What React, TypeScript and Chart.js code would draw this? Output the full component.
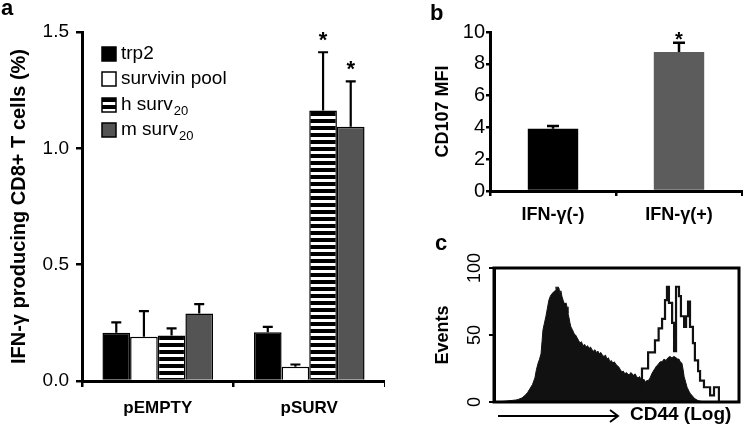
import React, { useEffect, useRef } from 'react';
import { Chart, registerables } from 'chart.js';

Chart.register(...registerables);

const FONT = "'Liberation Sans', Arial, Helvetica, sans-serif";
Chart.defaults.font.family = FONT;
Chart.defaults.color = '#000';

// ---------- Panel a ----------
const groupLabels = ['pEMPTY', 'pSURV'];
const seriesNames = ['trp2', 'survivin pool', 'h surv', 'm surv'];
const seriesSubs = ['', '', '20', '20'];
const trp2Vals = [0.207, 0.21];
const poolVals = [0.19, 0.061];
const hSurvVals = [0.196, 1.163];
const mSurvVals = [0.29, 1.093];
const trp2Err = [0.045, 0.023];
const poolErr = [0.11, 0.01];
const hSurvErr = [0.03, 0.25];
const mSurvErr = [0.04, 0.195];
const hSurvSig = [false, true];
const mSurvSig = [false, true];
const yTicksA = [0, 0.5, 1.0, 1.5];

// ---------- Panel b ----------
const cd107Labels = ['IFN-γ(-)', 'IFN-γ(+)'];
const cd107Vals = [3.92, 8.74];
const cd107Err = [0.17, 0.59];
const cd107Sig = [false, true];
const yTicksB = [0, 2, 4, 6, 8, 10];

// ---------- Panel c ----------
const histChannels = [
  0, 4, 6.5, 9, 10, 11.4, 12.7, 13.7, 14.7, 15.7, 16.7, 17.3, 18, 18.6, 19.2, 19.6, 20, 20.6, 21.2, 21.8,
  22.4, 23, 23.7, 24.3, 24.9, 25.3, 25.7, 26.1, 26.5, 26.9, 27.3, 27.7, 28.2, 28.6, 29, 29.4, 29.8, 30.2,
  30.6, 31, 31.4, 32, 32.7, 33.3, 33.9, 34.5, 35.1, 35.7, 36.3, 37, 37.6, 38.2, 38.8, 39.4, 40, 40.6, 41.2,
  41.8, 42.4, 43, 43.6, 44.2, 44.9, 45.5, 46.1, 46.7, 47.3, 47.9, 48.5, 49.1, 49.8, 50.4, 51, 51.6, 52.2,
  52.8, 53.4, 54, 54.6, 55.2, 55.8, 56.4, 57, 57.6, 58.2, 58.8, 59.4, 60, 60.6, 61.2, 61.8, 62.4, 63, 63.7,
  64.4, 65, 65.7, 66.4, 67, 67.8, 68.6, 69.4, 70.2, 71, 71.8, 72.6, 73.5, 74.3, 75, 75.5, 76, 76.7, 77.2,
  77.6, 78.2, 78.8, 79.6, 80.2, 80.8, 81.6, 82.4, 83.3, 84.5, 86, 100,
];
const histFilled = [
  0, 0.5, 1, 1.5, 2, 3, 5, 7, 10, 13, 18, 24, 29, 32, 36, 45, 54, 59, 64, 70,
  76, 79, 81, 82, 83, 86, 84, 86, 85, 81, 83, 79, 76, 74, 73, 74, 71, 66,
  63, 59, 56, 54, 51, 50, 48, 46, 44, 45, 42, 43, 41, 42, 40, 41, 39, 38, 39,
  37, 38, 36, 37, 35, 34, 35, 32, 33, 30, 31, 29, 30, 28, 27, 26, 24, 22.5,
  23, 21, 22, 21, 20, 22, 21, 20, 21, 19, 18, 19, 17, 16, 17, 15, 16, 16, 18,
  21, 23, 25, 27, 28, 30, 30, 32, 31, 33, 34, 33, 34, 33, 32, 32, 30, 29, 24,
  19, 15, 11, 8, 6, 5, 3, 2, 1, 0.5, 0, 0,
];
const outlineChannels = [
  57, 58.5, 60.4, 61.6, 62.9, 64.5, 65.7, 67.2, 68.6, 69.8, 70.6, 71.4, 72.7, 73.5, 74.3, 75.5,
  76.3, 77.6, 78.4, 79.2, 80, 81.2, 82, 83.3, 84.1, 85.7, 86.9, 88.2, 89.8, 91, 91.8,
];
const outlineCounts = [
  2, 6, 25, 25, 37, 37, 46, 55, 62, 76, 86, 74, 59, 38, 86, 79,
  64, 56, 64, 75, 56, 44, 31, 23, 16, 11, 11, 5, 11, 11, 0,
];

function makeStripes(ctx: CanvasRenderingContext2D) {
  const c = document.createElement('canvas');
  c.width = 8;
  c.height = 7;
  const g = c.getContext('2d')!;
  g.fillStyle = '#fff';
  g.fillRect(0, 0, 8, 7);
  g.fillStyle = '#000';
  g.fillRect(0, 0, 8, 4);
  return ctx.createPattern(c, 'repeat');
}

const errorBarPlugin = {
  id: 'errbars',
  afterDatasetsDraw(chart: any, _args: any, opts: any) {
    const ctx = chart.ctx;
    const y = chart.scales.y;
    chart.data.datasets.forEach((ds: any, i: number) => {
      if (!ds.errors) return;
      const meta = chart.getDatasetMeta(i);
      meta.data.forEach((el: any, j: number) => {
        const v = ds.data[j];
        const e = ds.errors[j];
        const yTop = y.getPixelForValue(v + e);
        ctx.save();
        ctx.strokeStyle = '#000';
        ctx.lineWidth = opts.lineWidth;
        ctx.beginPath();
        ctx.moveTo(el.x, el.y);
        ctx.lineTo(el.x, yTop);
        ctx.moveTo(el.x - opts.cap / 2, yTop);
        ctx.lineTo(el.x + opts.cap / 2, yTop);
        ctx.stroke();
        if (ds.sig && ds.sig[j]) {
          ctx.fillStyle = '#000';
          ctx.font = `bold ${opts.starSize}px ${FONT}`;
          ctx.textAlign = 'center';
          ctx.textBaseline = 'alphabetic';
          ctx.fillText('*', el.x, yTop + opts.starOffset);
        }
        ctx.restore();
      });
    });
  },
};

const panelLetterPlugin = {
  id: 'panelLetter',
  afterDraw(chart: any, _args: any, opts: any) {
    const ctx = chart.ctx;
    ctx.save();
    ctx.fillStyle = '#000';
    ctx.font = `bold 22px ${FONT}`;
    ctx.textAlign = 'left';
    ctx.textBaseline = 'alphabetic';
    ctx.fillText(opts.text, opts.x, opts.y);
    ctx.restore();
  },
};

const legendAPlugin = {
  id: 'legendA',
  afterDraw(chart: any) {
    const ctx = chart.ctx;
    const rows = [54, 79, 105, 130];
    ctx.save();
    chart.data.datasets.forEach((ds: any, i: number) => {
      const cy = rows[i];
      ctx.fillStyle = ds.backgroundColor;
      ctx.fillRect(102, cy - 7, 14, 14);
      ctx.strokeStyle = '#000';
      ctx.lineWidth = 1.5;
      ctx.strokeRect(102, cy - 7, 14, 14);
      ctx.fillStyle = '#000';
      ctx.font = `19px ${FONT}`;
      ctx.textAlign = 'left';
      ctx.textBaseline = 'middle';
      ctx.fillText(seriesNames[i], 121, cy);
      if (seriesSubs[i]) {
        const w = ctx.measureText(seriesNames[i]).width;
        ctx.font = `13px ${FONT}`;
        ctx.fillText(seriesSubs[i], 121 + w + 1, cy + 6);
      }
    });
    ctx.restore();
  },
};

const boxCPlugin = {
  id: 'boxC',
  afterDatasetsDraw(chart: any) {
    const ctx = chart.ctx;
    const a = chart.chartArea;
    const ys = chart.scales.y;
    ctx.save();
    ctx.strokeStyle = '#000';
    ctx.lineWidth = 3;
    ctx.strokeRect(a.left, a.top, a.right - a.left, a.bottom - a.top);
    // rotated tick labels
    ctx.fillStyle = '#000';
    ctx.font = `18px ${FONT}`;
    ctx.textAlign = 'center';
    ctx.textBaseline = 'middle';
    ys.ticks.forEach((t: any) => {
      const py = ys.getPixelForValue(t.value);
      ctx.save();
      ctx.translate(55, py);
      ctx.rotate(-Math.PI / 2);
      ctx.fillText(String(t.value), 0, 0);
      ctx.restore();
    });
    // arrow + axis label
    ctx.lineWidth = 2;
    ctx.beginPath();
    ctx.moveTo(78, 181);
    ctx.lineTo(198, 181);
    ctx.moveTo(190, 175);
    ctx.lineTo(198, 181);
    ctx.lineTo(190, 187);
    ctx.stroke();
    ctx.font = `bold 19px ${FONT}`;
    ctx.textAlign = 'left';
    ctx.fillText('CD44 (Log)', 210, 180);
    ctx.restore();
  },
};

export default function App() {
  const aRef = useRef<HTMLCanvasElement>(null);
  const bRef = useRef<HTMLCanvasElement>(null);
  const cRef = useRef<HTMLCanvasElement>(null);

  useEffect(() => {
    const charts: Chart[] = [];
    const aCtx = aRef.current!.getContext('2d')!;
    const stripes = makeStripes(aCtx);
    const barCommon = {
      borderColor: '#000',
      borderWidth: 1.5,
      categoryPercentage: 0.73,
      barPercentage: 1,
    };

    charts.push(
      new Chart(aRef.current!, {
        type: 'bar',
        data: {
          labels: groupLabels,
          datasets: [
            { label: seriesNames[0], data: trp2Vals, backgroundColor: '#000', errors: trp2Err, ...barCommon } as any,
            { label: seriesNames[1], data: poolVals, backgroundColor: '#fff', errors: poolErr, ...barCommon } as any,
            { label: seriesNames[2], data: hSurvVals, backgroundColor: stripes, errors: hSurvErr, sig: hSurvSig, ...barCommon } as any,
            { label: seriesNames[3], data: mSurvVals, backgroundColor: '#545454', errors: mSurvErr, sig: mSurvSig, ...barCommon } as any,
          ],
        },
        options: {
          animation: false,
          responsive: false,
          maintainAspectRatio: false,
          layout: { padding: { left: 0, top: 32, right: 0, bottom: 0 } },
          plugins: {
            legend: { display: false },
            tooltip: { enabled: false },
            errbars: { lineWidth: 2.2, cap: 10, starSize: 22, starOffset: -5 },
            panelLetter: { text: 'a', x: 1, y: 15 },
          } as any,
          scales: {
            x: {
              grid: { drawOnChartArea: false, drawTicks: true, tickLength: 6, color: '#000', lineWidth: 2.5 },
              border: { display: true, color: '#000', width: 3 },
              ticks: { font: { size: 17, weight: 'bold' }, color: '#000', padding: 11 },
              afterFit: (s: any) => { s.height = 51; },
            },
            y: {
              min: 0,
              max: 1.5,
              afterBuildTicks: (s: any) => { s.ticks = yTicksA.map((v) => ({ value: v })); },
              ticks: { callback: (v: any) => Number(v).toFixed(1), font: { size: 19 }, color: '#000', padding: 7 },
              grid: { drawOnChartArea: false, tickLength: 6, color: '#000', lineWidth: 2.5 },
              border: { display: true, color: '#000', width: 3 },
              title: {
                display: true,
                text: 'IFN-γ producing CD8+ T cells (%)',
                font: { size: 20, weight: 'bold' },
                color: '#000',
                padding: { top: 7, bottom: 0 },
              },
              afterFit: (s: any) => { s.width = 82; },
            },
          },
        } as any,
        plugins: [errorBarPlugin, panelLetterPlugin, legendAPlugin],
      })
    );

    charts.push(
      new Chart(bRef.current!, {
        type: 'bar',
        data: {
          labels: cd107Labels,
          datasets: [
            {
              label: 'CD107 MFI',
              data: cd107Vals,
              backgroundColor: ['#000', '#5c5c5c'],
              borderWidth: 0,
              categoryPercentage: 0.4,
              barPercentage: 1,
              errors: cd107Err,
              sig: cd107Sig,
            } as any,
          ],
        },
        options: {
          animation: false,
          responsive: false,
          maintainAspectRatio: false,
          layout: { padding: { left: 0, top: 32, right: 1, bottom: 0 } },
          plugins: {
            legend: { display: false },
            tooltip: { enabled: false },
            errbars: { lineWidth: 2.5, cap: 12, starSize: 20, starOffset: 3 },
            panelLetter: { text: 'b', x: 10, y: 20 },
          } as any,
          scales: {
            x: {
              grid: { drawOnChartArea: false, drawTicks: true, tickLength: 5, color: '#000', lineWidth: 2.5 },
              border: { display: true, color: '#000', width: 3 },
              ticks: { font: { size: 18, weight: 'bold' }, color: '#000', padding: 8 },
              afterFit: (s: any) => { s.height = 44; },
            },
            y: {
              min: 0,
              max: 10,
              afterBuildTicks: (s: any) => { s.ticks = yTicksB.map((v) => ({ value: v })); },
              ticks: { font: { size: 20 }, color: '#000', padding: 1 },
              grid: { drawOnChartArea: false, tickLength: 4, color: '#000', lineWidth: 2.5 },
              border: { display: true, color: '#000', width: 3 },
              title: {
                display: true,
                text: 'CD107 MFI',
                font: { size: 18, weight: 'bold' },
                color: '#000',
                padding: { top: 12, bottom: 0 },
              },
              afterFit: (s: any) => { s.width = 70; },
            },
          },
        } as any,
        plugins: [errorBarPlugin, panelLetterPlugin],
      })
    );

    charts.push(
      new Chart(cRef.current!, {
        type: 'line',
        data: {
          datasets: [
            {
              label: 'outline',
              data: outlineChannels.map((x, i) => ({ x, y: outlineCounts[i] })),
              borderColor: '#111',
              borderWidth: 2.2,
              pointRadius: 0,
              fill: false,
              stepped: true,
              order: 0,
            },
            {
              label: 'filled',
              data: histChannels.map((x, i) => ({ x, y: histFilled[i] })),
              borderColor: '#111',
              backgroundColor: '#111',
              borderWidth: 1,
              pointRadius: 0,
              fill: 'origin',
              tension: 0,
              order: 1,
            },
          ],
        },
        options: {
          animation: false,
          responsive: false,
          maintainAspectRatio: false,
          layout: { padding: { left: 0, top: 33, right: 4, bottom: 30 } },
          plugins: {
            legend: { display: false },
            tooltip: { enabled: false },
            panelLetter: { text: 'c', x: 15, y: 15 },
          } as any,
          scales: {
            x: { type: 'linear', min: 0, max: 100, display: false },
            y: {
              min: 0,
              max: 100,
              ticks: { stepSize: 50, display: false },
              grid: { drawOnChartArea: false, tickLength: 5, color: '#000', lineWidth: 2 },
              border: { display: true, color: '#000', width: 3 },
              title: {
                display: true,
                text: 'Events',
                font: { size: 18, weight: 'bold' },
                color: '#000',
                padding: { top: 12, bottom: 0 },
              },
              afterFit: (s: any) => { s.width = 74; },
            },
          },
        } as any,
        plugins: [boxCPlugin, panelLetterPlugin],
      })
    );

    return () => charts.forEach((c) => c.destroy());
  }, []);

  return (
    <div style={{ position: 'absolute', left: 0, top: 0, width: 743, height: 432, background: '#fff', overflow: 'hidden' }}>
      <canvas ref={aRef} width={385} height={432} style={{ position: 'absolute', left: 0, top: 0 }} />
      <canvas ref={bRef} width={323} height={235} style={{ position: 'absolute', left: 420, top: 0 }} />
      <canvas ref={cRef} width={323} height={197} style={{ position: 'absolute', left: 420, top: 235 }} />
    </div>
  );
}
